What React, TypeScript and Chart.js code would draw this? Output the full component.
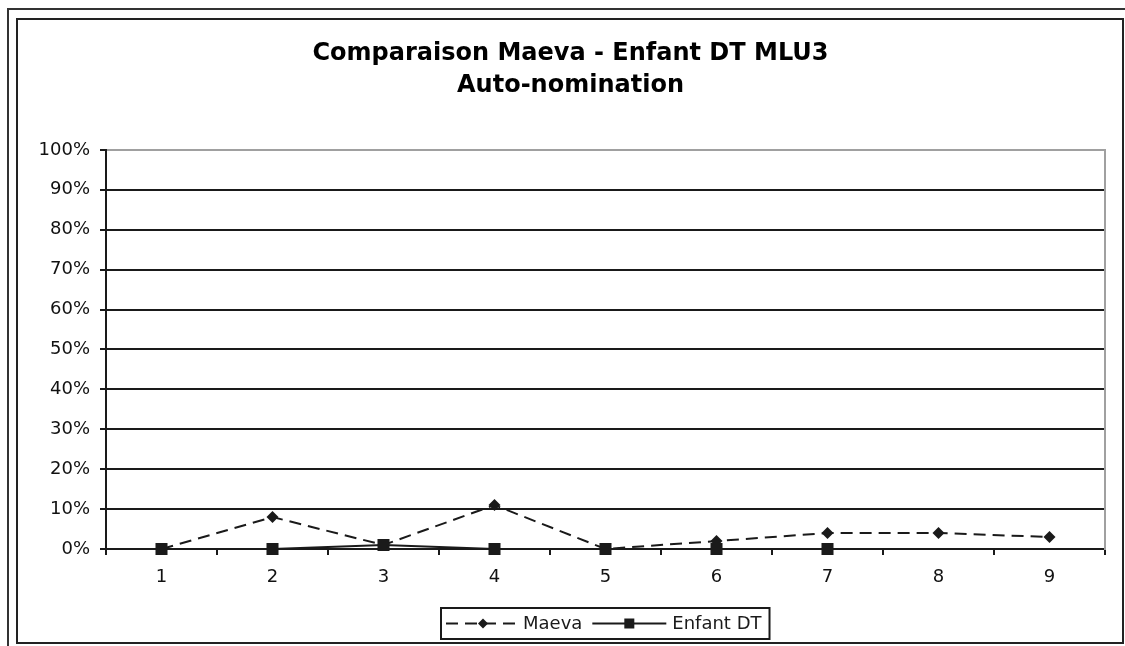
import React, { useEffect, useRef } from 'react';
import { Chart, registerables } from 'chart.js';

Chart.register(...registerables);

// ---- data ----
const categories = ['1', '2', '3', '4', '5', '6', '7', '8', '9'];
const maevaValues = [0, 0.08, 0.01, 0.11, 0, 0.02, 0.04, 0.04, 0.03];
const enfantDTValues: (number | null)[] = [0, 0, 0.01, 0, 0, 0, 0, null, null];
const seriesNames = ['Maeva', 'Enfant DT'];
const titleLines = ['Comparaison Maeva - Enfant DT MLU3', 'Auto-nomination'];
const yMin = 0;
const yMax = 1;
const yStep = 0.1;

const FAMILY = '"DejaVu Sans", Verdana, sans-serif';
const INK = '#1a1a1a';
const DASH = [12, 7];

const legendPlugin = {
  id: 'excelLegend',
  afterDraw(chart: any) {
    const ctx = chart.ctx as CanvasRenderingContext2D;
    const area = chart.chartArea;
    ctx.save();
    ctx.font = `18px ${FAMILY}`;
    const w1 = ctx.measureText(seriesNames[0]).width;
    const w2 = ctx.measureText(seriesNames[1]).width;
    const sampleW = 74;
    const total = 5 + sampleW + 3 + w1 + 10 + sampleW + 6 + w2 + 8;
    const cx = (area.left + area.right) / 2;
    const left = Math.round(cx - total / 2);
    const h = 31;
    const top = chart.height - 33;
    const cy = top + h / 2;

    ctx.fillStyle = '#fff';
    ctx.fillRect(left, top, total, h);
    ctx.lineWidth = 2;
    ctx.strokeStyle = INK;
    ctx.strokeRect(left, top, total, h);

    // sample 1 : dashed with diamond
    let x = left + 5;
    ctx.setLineDash(DASH);
    ctx.beginPath();
    ctx.moveTo(x, cy);
    ctx.lineTo(x + sampleW, cy);
    ctx.stroke();
    ctx.setLineDash([]);
    const d = 5;
    const mx = x + sampleW / 2;
    ctx.fillStyle = INK;
    ctx.beginPath();
    ctx.moveTo(mx - d, cy);
    ctx.lineTo(mx, cy - d);
    ctx.lineTo(mx + d, cy);
    ctx.lineTo(mx, cy + d);
    ctx.closePath();
    ctx.fill();
    x += sampleW + 3;
    ctx.fillStyle = INK;
    ctx.textBaseline = 'middle';
    ctx.textAlign = 'left';
    ctx.fillText(seriesNames[0], x, cy + 1);
    x += w1 + 10;

    // sample 2 : solid with square
    ctx.beginPath();
    ctx.moveTo(x, cy);
    ctx.lineTo(x + sampleW, cy);
    ctx.stroke();
    const s = 5;
    const sx = x + sampleW / 2;
    ctx.fillRect(sx - s, cy - s, 2 * s, 2 * s);
    x += sampleW + 6;
    ctx.fillText(seriesNames[1], x, cy + 1);
    ctx.restore();
  },
};

export default function App() {
  const canvasRef = useRef<HTMLCanvasElement | null>(null);

  useEffect(() => {
    const canvas = canvasRef.current;
    if (!canvas) return;
    const chart = new Chart(canvas, {
      type: 'line',
      data: {
        labels: categories,
        datasets: [
          {
            label: seriesNames[0],
            data: maevaValues,
            borderColor: INK,
            backgroundColor: INK,
            borderWidth: 2,
            borderDash: DASH,
            pointStyle: 'rectRot',
            pointRadius: 6,
            pointBackgroundColor: INK,
            pointBorderColor: INK,
            pointBorderWidth: 0,
            tension: 0,
            clip: false as any,
            order: 1,
          },
          {
            label: seriesNames[1],
            data: enfantDTValues,
            borderColor: INK,
            backgroundColor: INK,
            borderWidth: 2,
            pointStyle: 'rect',
            pointRadius: 8.5,
            pointBackgroundColor: INK,
            pointBorderColor: INK,
            pointBorderWidth: 0,
            tension: 0,
            spanGaps: false,
            clip: false as any,
            order: 0,
          },
        ],
      },
      options: {
        responsive: false,
        animation: false,
        devicePixelRatio: 1,
        layout: { padding: 0 },
        plugins: {
          legend: { display: false },
          tooltip: { enabled: false },
          title: {
            display: true,
            text: titleLines,
            color: '#000',
            font: { family: FAMILY, size: 24, weight: 'bold', lineHeight: 1.33 },
            padding: { top: 18, bottom: 48 },
          },
        },
        scales: {
          x: {
            type: 'category',
            offset: true,
            grid: {
              offset: true,
              drawOnChartArea: false,
              drawTicks: true,
              tickLength: 6,
              color: INK,
              lineWidth: 2,
            },
            border: { display: true, color: INK, width: 2 },
            ticks: {
              color: '#111',
              font: { family: FAMILY, size: 18 },
              padding: 12,
              maxRotation: 0,
              autoSkip: false,
            },
            afterFit(scale: any) {
              scale.height = 92;
            },
          },
          y: {
            min: yMin,
            max: yMax,
            position: 'left',
            grid: {
              color: (c: any) =>
                c.tick && Math.abs(c.tick.value - yMax) < 1e-6 ? '#a0a0a0' : INK,
              tickColor: INK,
              lineWidth: 2,
              tickLength: 6,
              drawTicks: true,
            },
            border: { display: true, color: INK, width: 2 },
            ticks: {
              stepSize: yStep,
              color: '#111',
              font: { family: FAMILY, size: 18 },
              padding: 10,
              callback: (v: any) => `${Math.round(Number(v) * 100)}%`,
            },
            afterFit(scale: any) {
              scale.width = 87;
            },
          },
          yRight: {
            position: 'right',
            min: yMin,
            max: yMax,
            grid: { drawOnChartArea: false, drawTicks: false },
            border: { display: true, color: '#a0a0a0', width: 2 },
            ticks: { display: false },
            afterFit(scale: any) {
              scale.width = 17;
            },
          },
        },
      } as any,
      plugins: [legendPlugin],
    });
    return () => chart.destroy();
  }, []);

  return (
    <div
      style={{
        position: 'absolute',
        left: 0,
        top: 0,
        width: 1125,
        height: 646,
        overflow: 'hidden',
        background: '#fff',
      }}
    >
      <div
        style={{
          position: 'absolute',
          left: 7,
          top: 8,
          width: 1400,
          height: 900,
          border: '2px solid #333',
          boxSizing: 'border-box',
        }}
      />
      <div
        style={{
          position: 'absolute',
          left: 16,
          top: 18,
          width: 1108,
          height: 626,
          border: '2px solid #222',
          boxSizing: 'border-box',
          background: '#fff',
        }}
      />
      <canvas
        ref={canvasRef}
        width={1103}
        height={621}
        style={{ position: 'absolute', left: 19, top: 20, width: 1103, height: 621 }}
      />
    </div>
  );
}
